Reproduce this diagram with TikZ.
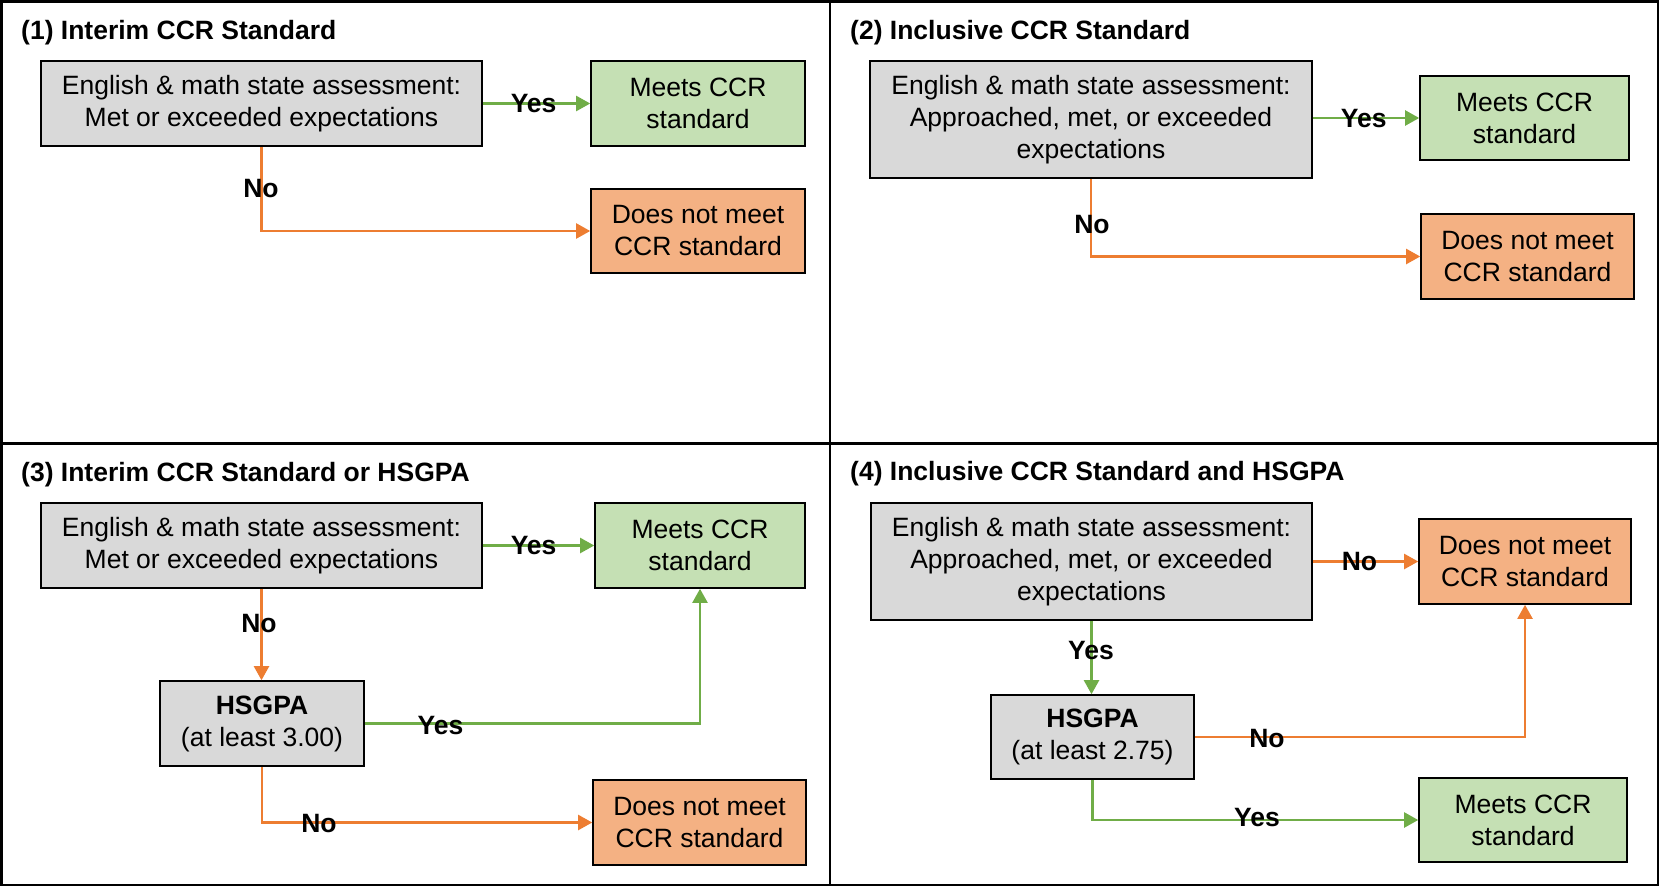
\documentclass[tikz,border=0pt]{standalone}
\usepackage{fontspec}
\setmainfont{Liberation Sans}
\usetikzlibrary{arrows.meta}
\definecolor{boxgray}{HTML}{D9D9D9}
\definecolor{boxgreen}{HTML}{C5E0B4}
\definecolor{boxorange}{HTML}{F4B183}
\definecolor{linegreen}{HTML}{70AD47}
\definecolor{lineorange}{HTML}{ED7D31}
\tikzset{
  bx/.style={draw=black, line width=1.6bp, inner sep=0pt, align=center,
    font=\fontsize{26.5bp}{32bp}\selectfont},
  qbox/.style={bx, fill=boxgray},
  okbox/.style={bx, fill=boxgreen},
  nobox/.style={bx, fill=boxorange},
  ttl/.style={anchor=base west, inner sep=0pt, font=\fontsize{26.5bp}{32bp}\selectfont\bfseries},
  lbl/.style={inner sep=0pt, font=\fontsize{26.5bp}{32bp}\selectfont\bfseries},
  yesarr/.style={draw=linegreen, line width=2.2bp, -{Triangle[length=14bp,width=15bp]}},
  noarr/.style={draw=lineorange, line width=2.2bp, -{Triangle[length=14bp,width=15bp]}},
}
\begin{document}
\begin{tikzpicture}[x=1bp,y=-1bp]
\useasboundingbox (0,0) rectangle (1659,886);
% frame
\draw[line width=2.5bp] (1.25,1.25) rectangle (1657.75,884.75);
\draw[line width=2.5bp] (830,1.25) -- (830,884.75);
\draw[line width=2.5bp] (1.25,443.3) -- (1657.75,443.3);

% ---------- Panel 1 ----------
\node[ttl] (t1) at (21,39.5) {(1) Interim CCR Standard};
\node[qbox, minimum width=441bp, minimum height=85bp] (g1) at (261.5,103.5)
  {English \& math state assessment:\\Met or exceeded expectations};
\node[okbox, minimum width=214bp, minimum height=85bp] (m1) at (698,103.5)
  {Meets CCR\\standard};
\node[nobox, minimum width=214bp, minimum height=84bp] (d1) at (698,231)
  {Does not meet\\CCR standard};
\draw[yesarr] (g1.east) -- (m1.west);
\draw[noarr] (g1.south) |- (d1.west);
\node[lbl] (y1) at (533.6,104) {Yes};
\node[lbl] (n1) at (261,189) {No};

% ---------- Panel 2 ----------
\node[ttl] (t2) at (850,39.5) {(2) Inclusive CCR Standard};
\node[qbox, minimum width=442bp, minimum height=117bp] (g2) at (1091,119.5)
  {English \& math state assessment:\\Approached, met, or exceeded\\expectations};
\node[okbox, minimum width=209bp, minimum height=84bp] (m2) at (1524.5,118)
  {Meets CCR\\standard};
\node[nobox, minimum width=213bp, minimum height=85bp] (d2) at (1527.5,256.5)
  {Does not meet\\CCR standard};
\draw[yesarr] (m2.west -| g2.east) -- (m2.west);
\draw[noarr] (g2.south) |- (d2.west);
\node[lbl] (y2) at (1363.7,118.5) {Yes};
\node[lbl] (n2) at (1092,224.3) {No};

% ---------- Panel 3 ----------
\node[ttl] (t3) at (21,481) {(3) Interim CCR Standard or HSGPA};
\node[qbox, minimum width=441bp, minimum height=85bp] (g3) at (261.5,545.5)
  {English \& math state assessment:\\Met or exceeded expectations};
\node[okbox, minimum width=210bp, minimum height=85bp] (m3) at (700,545.5)
  {Meets CCR\\standard};
\node[qbox, minimum width=204bp, minimum height=85bp] (h3) at (262,723.5)
  {\textbf{HSGPA}\\(at least 3.00)};
\node[nobox, minimum width=213bp, minimum height=85bp] (d3) at (699.5,822.5)
  {Does not meet\\CCR standard};
\draw[yesarr] (g3.east) -- (m3.west);
\draw[noarr] (g3.south) -- (g3.south |- h3.north);
\draw[yesarr] (h3.east) -| (m3.south);
\draw[noarr] (h3.south) |- (d3.west);
\node[lbl] (y3a) at (533.6,545.5) {Yes};
\node[lbl] (n3a) at (259,624) {No};
\node[lbl] (y3b) at (440.5,726) {Yes};
\node[lbl] (n3b) at (319,824) {No};

% ---------- Panel 4 ----------
\node[ttl] (t4) at (850,480.5) {(4) Inclusive CCR Standard and HSGPA};
\node[qbox, minimum width=441bp, minimum height=117bp] (g4) at (1091.5,561.5)
  {English \& math state assessment:\\Approached, met, or exceeded\\expectations};
\node[nobox, minimum width=212bp, minimum height=85bp] (d4) at (1525,561.5)
  {Does not meet\\CCR standard};
\node[qbox, minimum width=203bp, minimum height=84bp] (h4) at (1092.5,737)
  {\textbf{HSGPA}\\(at least 2.75)};
\node[okbox, minimum width=208bp, minimum height=84bp] (m4) at (1523,820)
  {Meets CCR\\standard};
\draw[noarr] (g4.east) -- (d4.west);
\draw[yesarr] (g4.south) -- (g4.south |- h4.north);
\draw[noarr] (h4.east) -| (d4.south);
\draw[yesarr] (h4.south) |- (m4.west);
\node[lbl] (n4a) at (1359.4,561.5) {No};
\node[lbl] (y4a) at (1091,651) {Yes};
\node[lbl] (n4b) at (1267,739) {No};
\node[lbl] (y4b) at (1257,818) {Yes};
\end{tikzpicture}
\end{document}
